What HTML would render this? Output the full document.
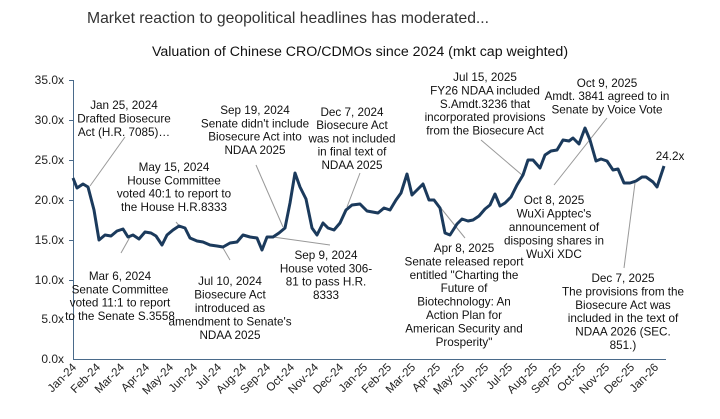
<!DOCTYPE html>
<html><head><meta charset="utf-8"><style>
body{margin:0;background:#fff;}
svg text{font-family:"Liberation Sans",Arial,sans-serif;}
</style></head><body>
<svg width="720" height="414" viewBox="0 0 720 414" xmlns="http://www.w3.org/2000/svg">
<text x="87" y="23" font-size="15.7" fill="#333">Market reaction to geopolitical headlines has moderated...</text>
<text x="360" y="56" font-size="14.2" fill="#111" text-anchor="middle">Valuation of Chinese CRO/CDMOs since 2024 (mkt cap weighted)</text>
<g font-size="12" fill="#222" text-anchor="end">
<text x="64" y="84">35.0x</text><text x="64" y="124">30.0x</text><text x="64" y="164">25.0x</text>
<text x="64" y="204">20.0x</text><text x="64" y="244">15.0x</text><text x="64" y="284">10.0x</text>
<text x="64" y="323">5.0x</text><text x="64" y="363">0.0x</text>
</g>
<g stroke="#4a6a8a" stroke-width="1">
<line x1="73.5" y1="80" x2="73.5" y2="359"/>
<line x1="73" y1="359.5" x2="666" y2="359.5"/>
<line x1="69" y1="80.5" x2="73" y2="80.5"/><line x1="69" y1="120.5" x2="73" y2="120.5"/><line x1="69" y1="160.5" x2="73" y2="160.5"/><line x1="69" y1="200.5" x2="73" y2="200.5"/><line x1="69" y1="240.5" x2="73" y2="240.5"/><line x1="69" y1="280.5" x2="73" y2="280.5"/><line x1="69" y1="319.5" x2="73" y2="319.5"/>
</g>
<g font-size="11.5" fill="#222" text-anchor="end">
<text transform="translate(77,368) rotate(-45)">Jan-24</text>
<text transform="translate(101,368) rotate(-45)">Feb-24</text>
<text transform="translate(125,368) rotate(-45)">Mar-24</text>
<text transform="translate(150,368) rotate(-45)">Apr-24</text>
<text transform="translate(174,368) rotate(-45)">May-24</text>
<text transform="translate(198,368) rotate(-45)">Jun-24</text>
<text transform="translate(222,368) rotate(-45)">Jul-24</text>
<text transform="translate(247,368) rotate(-45)">Aug-24</text>
<text transform="translate(271,368) rotate(-45)">Sep-24</text>
<text transform="translate(295,368) rotate(-45)">Oct-24</text>
<text transform="translate(319,368) rotate(-45)">Nov-24</text>
<text transform="translate(344,368) rotate(-45)">Dec-24</text>
<text transform="translate(368,368) rotate(-45)">Jan-25</text>
<text transform="translate(392,368) rotate(-45)">Feb-25</text>
<text transform="translate(416,368) rotate(-45)">Mar-25</text>
<text transform="translate(441,368) rotate(-45)">Apr-25</text>
<text transform="translate(465,368) rotate(-45)">May-25</text>
<text transform="translate(489,368) rotate(-45)">Jun-25</text>
<text transform="translate(513,368) rotate(-45)">Jul-25</text>
<text transform="translate(538,368) rotate(-45)">Aug-25</text>
<text transform="translate(562,368) rotate(-45)">Sep-25</text>
<text transform="translate(586,368) rotate(-45)">Oct-25</text>
<text transform="translate(610,368) rotate(-45)">Nov-25</text>
<text transform="translate(635,368) rotate(-45)">Dec-25</text>
<text transform="translate(659,368) rotate(-45)">Jan-26</text>
</g>
<g stroke="#999" stroke-width="1" fill="none">
<line x1="125" y1="137" x2="90" y2="186"/>
<line x1="176" y1="222" x2="181" y2="228"/>
<line x1="121" y1="253" x2="130" y2="237"/>
<line x1="230" y1="260" x2="223" y2="248"/>
<line x1="256" y1="165" x2="283" y2="227"/>
<line x1="330" y1="245" x2="273" y2="237"/>
<line x1="360" y1="173" x2="347" y2="207"/>
<line x1="481" y1="140" x2="522" y2="175"/>
<line x1="607" y1="118" x2="554" y2="185"/>
<line x1="465" y1="238" x2="440" y2="207"/>
<line x1="624" y1="268" x2="635" y2="183"/>
</g>
<polyline fill="none" stroke="#1b3a5c" stroke-width="3" stroke-linejoin="round" points="73,178 77,188 83,184 88,187 94,210 99,240 105,235 111,236 117,231 123,229 128,237 133,235 139,239 145,232 151,233 156,236 162,245 167,235 173,230 179,226 185,228 190,238 197,241 203,242 210,245 217,246 223,247 230,243 237,242 243,235 250,237 257,238 262,250 267,237 273,237 279,233 285,228 290,203 295,173 300,187 306,199 312,228 317,235 323,223 328,228 334,230 340,223 346,210 352,205 360,204 367,211 378,213 384,208 390,210 396,200 401,193 407,174 412,195 423,184 429,200 434,200 440,208 445,233 450,235 457,224 462,219 468,221 473,220 479,216 485,209 490,205 495,194 500,206 505,203 511,197 517,185 523,175 528,160 533,160 540,168 545,155 551,151 557,150 563,140 569,141 573,138 579,144 585,128 590,140 596,161 601,159 607,161 613,170 618,169 624,183 630,183 636,181 642,177 646,177 653,182 657,187 664,166"/>
<g font-size="11.7" fill="#111" text-anchor="middle">
<text y="109"><tspan x="124">Jan 25, 2024</tspan><tspan x="124" dy="13.5">Drafted Biosecure</tspan><tspan x="124" dy="13.5">Act (H.R. 7085)…</tspan></text>
<text y="171"><tspan x="174">May 15, 2024</tspan><tspan x="174" dy="13.3">House Committee</tspan><tspan x="174" dy="13.3">voted 40:1 to report to</tspan><tspan x="174" dy="13.3">the House H.R.8333</tspan></text>
<text y="280"><tspan x="120">Mar 6, 2024</tspan><tspan x="120" dy="13.3">Senate Committee</tspan><tspan x="120" dy="13.3">voted 11:1 to report</tspan><tspan x="120" dy="13.3">to the Senate S.3558</tspan></text>
<text y="285"><tspan x="230">Jul 10, 2024</tspan><tspan x="230" dy="13.5">Biosecure Act</tspan><tspan x="230" dy="13.5">introduced as</tspan><tspan x="230" dy="13.5">amendment to Senate's</tspan><tspan x="230" dy="13.5">NDAA 2025</tspan></text>
<text y="114"><tspan x="255">Sep 19, 2024</tspan><tspan x="255" dy="13.3">Senate didn't include</tspan><tspan x="255" dy="13.3">Biosecure Act into</tspan><tspan x="255" dy="13.3">NDAA 2025</tspan></text>
<text y="116"><tspan x="352">Dec 7, 2024</tspan><tspan x="352" dy="13.2">Biosecure Act</tspan><tspan x="352" dy="13.2">was not included</tspan><tspan x="352" dy="13.2">in final text of</tspan><tspan x="352" dy="13.2">NDAA 2025</tspan></text>
<text y="259"><tspan x="326">Sep 9, 2024</tspan><tspan x="326" dy="13.3">House voted 306-</tspan><tspan x="326" dy="13.3">81 to pass H.R.</tspan><tspan x="326" dy="13.3">8333</tspan></text>
<text y="81"><tspan x="485">Jul 15, 2025</tspan><tspan x="485" dy="13.4">FY26 NDAA included</tspan><tspan x="485" dy="13.4">S.Amdt.3236 that</tspan><tspan x="485" dy="13.4">incorporated provisions</tspan><tspan x="485" dy="13.4">from the Biosecure Act</tspan></text>
<text y="87"><tspan x="607">Oct 9, 2025</tspan><tspan x="607" dy="13.2">Amdt. 3841 agreed to in</tspan><tspan x="607" dy="13.2">Senate by Voice Vote</tspan></text>
<text x="670" y="160">24.2x</text>
<text y="204"><tspan x="554">Oct 8, 2025</tspan><tspan x="554" dy="13.5">WuXi Apptec's</tspan><tspan x="554" dy="13.5">announcement of</tspan><tspan x="554" dy="13.5">disposing shares in</tspan><tspan x="554" dy="13.5">WuXi XDC</tspan></text>
<text y="252"><tspan x="464">Apr 8, 2025</tspan><tspan x="464" dy="13.4">Senate released report</tspan><tspan x="464" dy="13.4">entitled "Charting the</tspan><tspan x="464" dy="13.4">Future of</tspan><tspan x="464" dy="13.4">Biotechnology: An</tspan><tspan x="464" dy="13.4">Action Plan for</tspan><tspan x="464" dy="13.4">American Security and</tspan><tspan x="464" dy="13.4">Prosperity"</tspan></text>
<text y="282"><tspan x="623">Dec 7, 2025</tspan><tspan x="623" dy="13.4">The provisions from the</tspan><tspan x="623" dy="13.4">Biosecure Act was</tspan><tspan x="623" dy="13.4">included in the text of</tspan><tspan x="623" dy="13.4">NDAA 2026 (SEC.</tspan><tspan x="623" dy="13.4">851.)</tspan></text>
</g>
</svg>
</body></html>
